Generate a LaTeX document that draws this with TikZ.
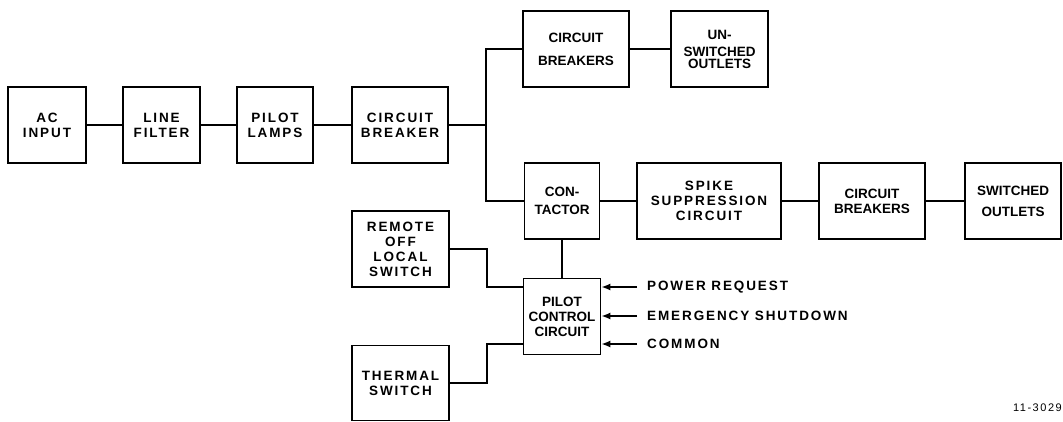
\documentclass[tikz,border=0pt]{standalone}
\usepackage{fontspec}
\setmainfont{Liberation Sans}
\newfontfamily\spaced{Liberation Sans}[LetterSpace=14]
\usetikzlibrary{arrows.meta}

\begin{document}
\begin{tikzpicture}[x=1pt, y=-1pt,
  blk/.style={draw, line width=1.8pt, minimum width=77pt, minimum height=76pt, align=center, inner sep=0pt, font=\fontsize{13.5}{15}\selectfont\spaced\bfseries},
  nblk/.style={blk, font=\fontsize{13.5}{15}\selectfont\bfseries},
  wire/.style={line width=1.5pt},
  sig/.style={line width=1.5pt, -{Latex[length=9pt,width=7pt]}},
  lbl/.style={anchor=west, inner sep=0pt, font=\fontsize{13.5}{15}\selectfont\spaced\bfseries},
]
\useasboundingbox (0,0) rectangle (1063,421);

% main line
\node[blk, minimum width=78pt] (ac) at (47,125) {AC\\INPUT};
\node[blk] (lf) at (161.5,125) {LINE\\FILTER};
\node[blk, minimum width=76pt] (pl) at (275,125) {PILOT\\LAMPS};
\node[blk, minimum width=96pt] (cb) at (400,125) {CIRCUIT\\BREAKER};
\coordinate (jn) at (486,125);

% unswitched branch
\node[nblk, minimum width=106pt] (cbt) at (576,49) {CIRCUIT\\[8pt]BREAKERS};
\node[nblk, minimum width=97pt] (usw) at (719.5,49) {UN-\\[2pt]SWITCHED\\[-3pt]OUTLETS};

% switched branch
\node[nblk, minimum width=75pt] (con) at (562,201) {CON-\\[3pt]TACTOR};
\node[blk, minimum width=144pt] (spk) at (709,201) {SPIKE\\SUPPRESSION\\CIRCUIT};
\node[nblk, minimum width=106pt] (cbb) at (872,201) {CIRCUIT\\BREAKERS};
\node[nblk, minimum width=96pt] (swo) at (1013,201) {SWITCHED\\[6pt]OUTLETS};

% control
\node[blk, minimum width=97pt] (rem) at (400.5,249) {REMOTE\\OFF\\LOCAL\\SWITCH};
\node[nblk] (pcc) at (562,316.5) {PILOT\\CONTROL\\CIRCUIT};
\node[blk, minimum width=97pt, minimum height=75pt] (thm) at (400.5,383) {THERMAL\\SWITCH};

\node[lbl] (preq) at (647,287) {POWER REQUEST};
\node[lbl] (emsd) at (647,316) {EMERGENCY SHUTDOWN};
\node[lbl] (com) at (647,344) {COMMON};

\node[anchor=east, inner sep=0pt, font=\fontsize{11}{13}\selectfont\spaced] (fig) at (1062,408) {11-3029};

\draw[wire] (ac) -- (lf);
\draw[wire] (lf) -- (pl);
\draw[wire] (pl) -- (cb);
\draw[wire] (cb) -- (jn);
\draw[wire] (cbt.west) -| (jn) |- (con.west);
\draw[wire] (cbt) -- (usw);
\draw[wire] (con) -- (spk);
\draw[wire] (spk) -- (cbb);
\draw[wire] (cbb) -- (swo);
\draw[wire] (con) -- (pcc);
\draw[wire] (rem.east) -- ++(37,0) |- (pcc.west |- preq.west);
\draw[wire] (thm.east) -- ++(37,0) |- (pcc.west |- com.west);

\foreach \s in {preq, emsd, com}
  \draw[sig] ([xshift=-10pt]\s.west) -- (pcc.east |- \s.west);
\end{tikzpicture}
\end{document}
